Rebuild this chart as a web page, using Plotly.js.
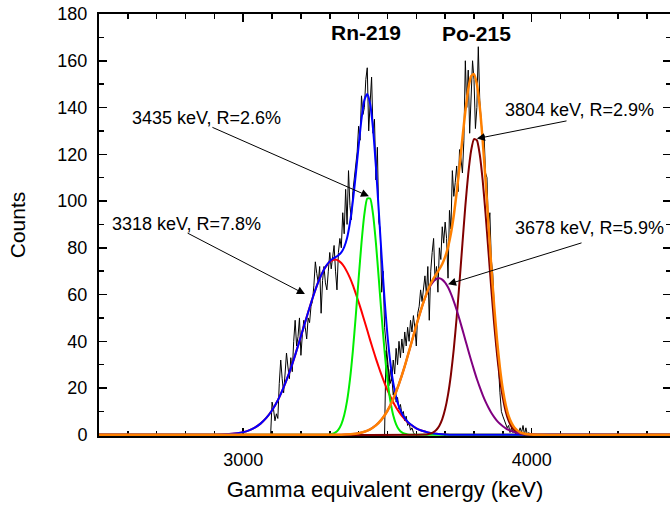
<!DOCTYPE html>
<html><head><meta charset="utf-8">
<script src="https://cdn.plot.ly/plotly-3.0.1.min.js"></script>
<style>html,body{margin:0;padding:0;overflow:hidden;background:#fff}#chart{width:672px;height:506px}</style>
</head><body><div id="chart"></div>
<script>
// Measured spectra (5 keV bins)
const rnDataStart = 3095, binWidth = 5;
const rnCounts = [0,14,11,6,9,7,22,32,24,18,
26,35,29,24,33,27,40,49,38,42,
50,34,43,49,46,41,50,48,55,57,
64,74,69,65,72,52,66,72,65,62,
70,78,71,75,81,70,62,78,84,80,
95,86,105,90,113,98,92,104,109,116,
121,132,126,145,137,140,152,157,130,142,
153,129,135,109,123,91,88,61,70,46,
38,30,26,22,25,17,20,14,16,11,
13,9,10,6,8,4,5,2,3,1,0];
const poDataStart = 3490;
const poCounts = [0,36,30,21,28,23,32,26,37,30,
40,33,41,35,44,38,46,40,49,44,
51,46,38,52,55,62,57,64,68,60,
72,49,70,78,84,66,72,61,80,75,
89,82,91,84,67,96,88,113,102,108,
115,104,122,118,112,126,160,140,156,129,
145,160,152,131,140,166,143,136,126,128,
112,110,89,95,75,69,55,41,35,29,
18,10,8,6,5,3,4,1,3,1,
2,0,2,1,3,1,4,0,3,0,1,0];

// Fitted curves
const rnFitX = [2500,2900,2940,2980,3000,3020,3040,3060,3080,3100,3120,3140,3160,3180,3200,3220,3240,3260,3280,
3290,3300,3310,3320,3330,3340,3350,3360,3370,3380,3390,3400,3410,3420,3430,3440,3450,3460,3470,3480,3490,3500,3510,3520,3530,3540,3550,3560,3570,3580,
3600,3620,3640,3660,3700,3740,4500];
const fit3318 = [0,0.05,0.2,0.67,1.15,1.91,3.08,4.79,7.22,10.5,14.8,20.3,26.7,34.1,42.2,50.4,58.3,65.3,70.7,
72.6,74.0,74.8,75.0,74.55,73.5,71.9,69.7,67.1,64.0,60.5,56.8,52.9,48.8,44.7,40.5,36.5,32.6,28.9,25.4,22.1,19.1,16.4,13.9,11.7,9.8,8.1,6.67,5.4,4.4,
2.8,1.73,1.03,0.6,0.18,0.05,0];
const rnSum = [0,0.05,0.2,0.67,1.15,1.91,3.08,4.79,7.22,10.5,14.8,20.3,26.7,34.1,42.2,50.4,58.3,65.3,70.7,
72.7,74.2,75.3,76.0,76.8,78.0,80.3,84.2,90.7,99.8,111.1,123.5,135.0,143.2,145.8,141.6,130.9,114.7,95.6,76.0,57.9,42.7,30.9,22.3,16.2,12.0,9.15,7.13,5.6,4.5,
2.8,1.73,1.03,0.6,0.18,0.05,0];
const fit3435X = [2500,3290,3300,3310,3320,3330,3340,3350,3360,3370,3380,3390,3400,3410,3420,3430,3440,3450,3460,3470,3480,3490,3500,3510,3520,3530,3540,3550,3560,3570,3580,4500];
const fit3435 = [0,0.07,0.19,0.46,1.05,2.24,4.48,8.36,14.5,23.6,35.8,50.6,66.7,82.1,94.4,101.1,101.1,94.4,82.1,66.7,50.6,35.8,23.6,14.5,8.36,4.48,2.24,1.05,0.46,0.19,0.07,0];

const poFitX = [2500,3300,3340,3380,3400,3420,3440,3460,3480,3500,3520,3540,3560,3580,3600,3620,
3630,3640,3650,3660,3670,3680,3690,3700,3710,3720,3730,3740,3750,3760,3770,3780,3790,3800,3810,3820,
3830,3840,3850,3860,3870,3880,3890,3900,3910,3920,3930,3940,3950,3960,3970,3980,4020,4500];
const fit3678 = [0,0.01,0.08,0.35,0.70,1.31,2.36,4.05,6.6,10.3,15.3,21.8,29.4,38.0,46.8,54.9,
58.5,61.5,64.0,65.7,66.7,67.0,66.4,65.1,63.1,60.4,57.1,53.4,49.3,45.0,40.6,36.2,31.9,27.8,23.9,20.4,
17.1,14.2,11.7,9.47,7.6,6.0,4.7,3.64,2.79,2.1,1.57,1.16,0.85,0.61,0.43,0.31,0.07,0];
const poSum = [0,0.01,0.08,0.35,0.70,1.31,2.36,4.05,6.6,10.3,15.3,21.8,29.4,38.0,46.8,54.9,
58.6,61.8,64.6,66.9,68.9,70.9,73.1,76.1,80.3,86.1,93.9,103.7,114.9,126.9,138.4,147.7,153.4,154.3,149.9,140.3,
126.1,108.9,90.4,72.0,55.0,40.4,28.5,19.4,12.8,8.1,5.1,3.1,1.9,1.1,0.7,0.4,0.07,0];
const fit3804X = [2500,3630,3640,3650,3660,3670,3680,3690,3700,3710,3720,3730,3740,3750,3760,3770,3780,3790,3800,3810,3820,
3830,3840,3850,3860,3870,3880,3890,3900,3910,3920,3930,3940,3950,3960,3970,3980,4500];
const fit3804 = [0,0.13,0.29,0.59,1.16,2.18,3.9,6.7,11.0,17.2,25.7,36.8,50.3,65.6,81.9,97.8,111.5,121.5,126.5,126.0,119.9,
109.0,94.7,78.7,62.5,47.4,34.4,23.8,15.8,10.0,6.04,3.5,1.93,1.02,0.51,0.25,0.12,0];

const peakLabels = ['Rn-219','Po-215'];
const fitLabels = ['3435 keV, R=2.6%','3318 keV, R=7.8%','3804 keV, R=2.9%','3678 keV, R=5.9%'];

const F = 'Liberation Sans, Arial, sans-serif';
const fitLine = (c)=>({color:c,width:2,shape:'spline',smoothing:0.6});

const traces = [
 {type:'scatter',mode:'lines',x0:rnDataStart,dx:binWidth,y:rnCounts,line:{color:'#000',width:1},hoverinfo:'skip'},
 {type:'scatter',mode:'lines',x0:poDataStart,dx:binWidth,y:poCounts,line:{color:'#000',width:1},hoverinfo:'skip'},
 {type:'scatter',mode:'lines',x:rnFitX,y:fit3318,line:fitLine('#ff0000')},
 {type:'scatter',mode:'lines',x:fit3435X,y:fit3435,line:fitLine('#00ee00')},
 {type:'scatter',mode:'lines',x:rnFitX,y:rnSum,line:fitLine('#0000ff')},
 {type:'scatter',mode:'lines',x:fit3804X,y:fit3804,line:fitLine('#800000')},
 {type:'scatter',mode:'lines',x:poFitX,y:fit3678,line:fitLine('#800080')},
 {type:'scatter',mode:'lines',x:poFitX,y:poSum,line:{color:'#ff8000',width:2.5,shape:'spline',smoothing:0.6}}
];

function arrow(tx,ty,hx,hy){
 return {x:hx,y:hy,xref:'x',yref:'y',ax:tx,ay:ty,axref:'x',ayref:'y',text:'',showarrow:true,
  arrowhead:2,arrowsize:1.6,arrowwidth:1,arrowcolor:'#000',standoff:0,startstandoff:0};
}
function label(t,x,y,bold){
 return {x:x,y:y,xref:'x',yref:'y',text:bold?'<b>'+t+'</b>':t,showarrow:false,xanchor:'center',yanchor:'middle',
  font:{family:F,size:bold?21:18,color:'#000'}};
}

const layout = {
 width:672,height:506,
 margin:{l:99,r:1,t:14,b:70},
 paper_bgcolor:'#fff',plot_bgcolor:'#fff',
 showlegend:false,
 font:{family:F,color:'#000'},
 xaxis:{range:[2500,4483],showgrid:false,zeroline:false,showline:true,linecolor:'#000',linewidth:2,
  mirror:'allticks',ticks:'inside',ticklen:8,tickwidth:1.5,tickcolor:'#000',tick0:0,dtick:1000,
  minor:{dtick:100,ticks:'inside',ticklen:5,tickwidth:1.5,tickcolor:'#000',showgrid:false},
  tickfont:{family:F,size:18},ticklabelstandoff:6,layer:'below traces',
  title:{text:'Gamma equivalent energy (keV)',font:{family:F,size:22},standoff:13}},
 yaxis:{range:[-0.5,180],showgrid:false,zeroline:false,showline:true,linecolor:'#000',linewidth:2,
  mirror:'allticks',ticks:'inside',ticklen:8,tickwidth:1.5,tickcolor:'#000',tick0:0,dtick:20,
  minor:{dtick:10,ticks:'inside',ticklen:5,tickwidth:1.5,tickcolor:'#000',showgrid:false},
  tickfont:{family:F,size:18},ticklabelstandoff:6,layer:'below traces',
  title:{text:'Counts',font:{family:F,size:21},standoff:26}},
 annotations:[
  label(peakLabels[0],3425,172,true),
  label(peakLabels[1],3810,171.5,true),
  label(fitLabels[0],2874,135.7),
  label(fitLabels[1],2802,90),
  label(fitLabels[2],4167,139),
  label(fitLabels[3],4202,88.3),
  arrow(2888,131.8,3436,102),
  arrow(2802,86.6,3214,60.2),
  arrow(4126,134.4,3810,126.7),
  arrow(4178,82.3,3710,64.4)
 ]
};
Plotly.newPlot('chart',traces,layout,{staticPlot:true,displayModeBar:false});
</script></body></html>
